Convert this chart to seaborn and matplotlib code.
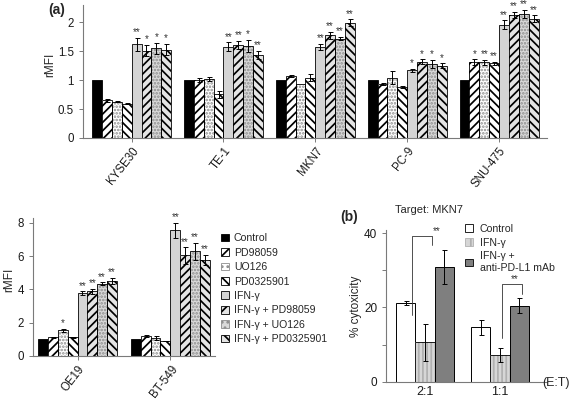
import matplotlib
matplotlib.use("Agg")
import matplotlib.pyplot as plt
from matplotlib.patches import Patch, Rectangle
import pandas as pd
import seaborn as sns

# ---- data ----
treatments = ["Control", "PD98059", "UO126", "PD0325901", "IFN-γ",
              "IFN-γ + PD98059", "IFN-γ + UO126", "IFN-γ + PD0325901"]

top_cells = ["KYSE30", "TE-1", "MKN7", "PC-9", "SNU-475"]
kyse30_vals = [1.00, 0.65, 0.63, 0.59, 1.62, 1.51, 1.55, 1.53]
kyse30_err = [0, 0.02, 0.01, 0.01, 0.11, 0.10, 0.10, 0.10]
kyse30_sig = ["", "", "", "", "**", "*", "*", "*"]
te1_vals = [1.00, 1.00, 1.02, 0.76, 1.58, 1.61, 1.59, 1.44]
te1_err = [0, 0.03, 0.04, 0.06, 0.08, 0.07, 0.11, 0.07]
te1_sig = ["", "", "", "", "**", "**", "*", "**"]
mkn7_vals = [1.00, 1.07, 0.93, 1.04, 1.58, 1.78, 1.72, 1.99]
mkn7_err = [0, 0.02, 0, 0.06, 0.05, 0.06, 0.03, 0.06]
mkn7_sig = ["", "", "", "", "**", "**", "**", "**"]
pc9_vals = [1.00, 0.93, 1.04, 0.88, 1.17, 1.32, 1.28, 1.25]
pc9_err = [0, 0.02, 0.11, 0.02, 0.03, 0.04, 0.07, 0.04]
pc9_sig = ["", "", "", "", "*", "*", "*", "*"]
snu475_vals = [1.00, 1.31, 1.31, 1.29, 1.96, 2.13, 2.15, 2.06]
snu475_err = [0, 0.05, 0.04, 0.03, 0.08, 0.05, 0.07, 0.06]
snu475_sig = ["", "*", "**", "**", "**", "**", "**", "**"]

low_cells = ["OE19", "BT-549"]
oe19_vals = [1.00, 1.12, 1.55, 1.12, 3.78, 3.90, 4.35, 4.52]
oe19_err = [0, 0.03, 0.08, 0.03, 0.12, 0.15, 0.08, 0.20]
oe19_sig = ["", "", "*", "", "**", "**", "**", "**"]
bt549_vals = [1.00, 1.20, 1.08, 0.90, 7.55, 6.05, 6.30, 5.80]
bt549_err = [0, 0.04, 0.10, 0.02, 0.45, 0.50, 0.50, 0.30]
bt549_sig = ["", "", "", "", "**", "**", "**", "**"]

ratios = ["2:1", "1:1"]
cyto_groups = ["Control", "IFN-γ", "IFN-γ +\nanti-PD-L1 mAb"]
cyto_control = [21.2, 14.6]
cyto_control_err = [0.5, 2.0]
cyto_ifn = [10.6, 7.2]
cyto_ifn_err = [4.9, 1.8]
cyto_anti = [30.9, 20.4]
cyto_anti_err = [4.6, 2.0]

# face colour, hatch, hatch colour for each treatment
bar_style = {
    "Control": ("#000000", "", "black"),
    "PD98059": ("#ffffff", "////", "black"),
    "UO126": ("#ffffff", ".....", "#8c8c8c"),
    "PD0325901": ("#ffffff", "\\\\\\\\", "black"),
    "IFN-γ": ("#d4d4d4", "", "black"),
    "IFN-γ + PD98059": ("#e4e4e4", "////", "black"),
    "IFN-γ + UO126": ("#d9d9d9", ".....", "#8c8c8c"),
    "IFN-γ + PD0325901": ("#e4e4e4", "\\\\\\\\", "black"),
}
cyto_style = {
    "Control": ("#ffffff", "", "black"),
    "IFN-γ": ("#d6d6d6", "||||", "#b0b0b0"),
    "IFN-γ +\nanti-PD-L1 mAb": ("#7f7f7f", "", "black"),
}

sns.set_style("ticks")
plt.rcParams["font.family"] = ["Liberation Sans", "DejaVu Sans"]
plt.rcParams["hatch.linewidth"] = 1.25
plt.rcParams["axes.edgecolor"] = "#7a7a7a"
plt.rcParams["xtick.color"] = "#7a7a7a"
plt.rcParams["ytick.color"] = "#7a7a7a"
plt.rcParams["xtick.labelcolor"] = "#1a1a1a"
plt.rcParams["ytick.labelcolor"] = "#1a1a1a"


def style_bars(ax, containers, levels, styles):
    for level, cont in zip(levels, containers):
        face, hatch, hcolor = styles[level]
        for bar in cont:
            bar.set_facecolor(face)
            if hatch:
                bar.set_hatch(hatch)
                bar.set_edgecolor(hcolor)
                bar.set_linewidth(0)
                ax.add_patch(Rectangle(bar.get_xy(), bar.get_width(), bar.get_height(),
                                       fill=False, edgecolor="black", linewidth=0.6))


def add_errors(ax, containers, errs, sigs=None):
    for k, cont in enumerate(containers):
        for j, bar in enumerate(cont):
            e = errs[j][k]
            xc = bar.get_x() + bar.get_width() / 2
            top = bar.get_height()
            if e > 0:
                ax.errorbar(xc, top, yerr=e, fmt="none", ecolor="black",
                            elinewidth=0.7, capsize=1.8, capthick=0.7)
            if sigs is not None and sigs[j][k]:
                ax.annotate(sigs[j][k], (xc, top + e), xytext=(0, 0.3),
                            textcoords="offset points", ha="center", va="bottom",
                            fontsize=7, color="#333333")


def rmfi_panel(ax, cells, vals, errs, sigs, width):
    rows = []
    for cell, v in zip(cells, vals):
        for t, val in zip(treatments, v):
            rows.append({"cell": cell, "treatment": t, "rmfi": val})
    df = pd.DataFrame(rows)
    sns.barplot(data=df, x="cell", y="rmfi", hue="treatment", order=cells,
                hue_order=treatments,
                palette={t: bar_style[t][0] for t in treatments},
                width=width, saturation=1, edgecolor="black", linewidth=0.6,
                errorbar=None, legend=False, ax=ax)
    conts = list(ax.containers)
    style_bars(ax, conts, treatments, bar_style)
    add_errors(ax, conts, errs, sigs)
    ax.set_xlabel("")
    ax.set_ylabel("rMFI", fontsize=8.5)
    ax.tick_params(axis="x", length=3, width=0.7, labelsize=8.3, pad=2)
    ax.tick_params(axis="y", length=3, width=0.7, labelsize=8.3)
    for lab in ax.get_xticklabels():
        lab.set_rotation(52)
        lab.set_ha("right")
        lab.set_rotation_mode("anchor")
    sns.despine(ax=ax)


fig = plt.figure(figsize=(5.72, 4.0), dpi=100)

# (a) upper panel
ax1 = fig.add_axes([0.145, 0.655, 0.811, 0.3325])
rmfi_panel(ax1, top_cells,
           [kyse30_vals, te1_vals, mkn7_vals, pc9_vals, snu475_vals],
           [kyse30_err, te1_err, mkn7_err, pc9_err, snu475_err],
           [kyse30_sig, te1_sig, mkn7_sig, pc9_sig, snu475_sig], 0.86)
ax1.set_xlim(-0.53, 4.52)
ax1.set_ylim(0, 2.3)
ax1.set_yticks([0, 0.5, 1, 1.5, 2])
ax1.set_yticklabels(["0", "0.5", "1", "1.5", "2"])
ax1.yaxis.set_label_coords(-0.058, 0.55)
fig.text(48 / 572, 1 - 14 / 400, "(a)", fontsize=10, fontweight="bold")

# (a) lower panel
ax2 = fig.add_axes([0.0577, 0.11, 0.318, 0.345])
rmfi_panel(ax2, low_cells, [oe19_vals, bt549_vals], [oe19_err, bt549_err],
           [oe19_sig, bt549_sig], 0.85)
ax2.set_xlim(-0.48, 1.48)
ax2.set_ylim(0, 8.3)
ax2.set_yticks([0, 2, 4, 6, 8])
ax2.yaxis.set_label_coords(-0.099, 0.55)

handles = []
for t in treatments:
    face, hatch, hcolor = bar_style[t]
    handles.append(Patch(facecolor=face, hatch=hatch[:3],
                         edgecolor="black" if not hatch else hcolor, linewidth=0.6))
fig.legend(handles, treatments, loc="upper left",
           bbox_to_anchor=(216 / 572, 1 - 228 / 400), frameon=False,
           fontsize=7.6, handlelength=0.75, handleheight=0.75,
           handletextpad=0.45, labelspacing=0.42, borderpad=0)

# (b) cytotoxicity panel
ax3 = fig.add_axes([0.675, 0.0458, 0.2815, 0.379])
rows = []
for g, v in zip(cyto_groups, [cyto_control, cyto_ifn, cyto_anti]):
    for r, val in zip(ratios, v):
        rows.append({"ratio": r, "group": g, "cyto": val})
cyto_df = pd.DataFrame(rows)
sns.barplot(data=cyto_df, x="ratio", y="cyto", hue="group", order=ratios,
            hue_order=cyto_groups,
            palette={g: cyto_style[g][0] for g in cyto_groups},
            width=0.77, saturation=1, edgecolor="black", linewidth=0.7,
            errorbar=None, legend=False, ax=ax3)
conts3 = list(ax3.containers)
style_bars(ax3, conts3, cyto_groups, cyto_style)
add_errors(ax3, conts3,
           [list(z) for z in zip(cyto_control_err, cyto_ifn_err, cyto_anti_err)])
ax3.set_xlim(-0.52, 1.63)
ax3.set_ylim(0, 40.8)
ax3.set_yticks([0, 20, 40])
ax3.set_yticks([10, 30], minor=True)
ax3.tick_params(axis="y", which="both", length=3, width=0.7, labelsize=8.5)
ax3.tick_params(axis="x", length=0, labelsize=9, pad=3)
ax3.set_xlabel("")
ax3.set_ylabel("% cytoxicity", fontsize=8.5)
ax3.yaxis.set_label_coords(-0.149, 0.5)
sns.despine(ax=ax3)

# significance brackets
ax3.plot([-0.174, -0.174, 0.094, 0.094], [18.0, 39.2, 39.2, 36.8],
         color="#333333", linewidth=0.6)
ax3.text(0.16, 39.3, "**", fontsize=7, ha="center", va="bottom", color="#333333",
         clip_on=False)
ax3.plot([1.023, 1.023, 1.29, 1.29], [11.7, 26.2, 26.2, 23.6],
         color="#333333", linewidth=0.6)
ax3.text(1.2, 26.3, "**", fontsize=7, ha="center", va="bottom", color="#333333")

cyto_handles = []
for g in cyto_groups:
    face, hatch, hcolor = cyto_style[g]
    cyto_handles.append(Patch(facecolor=face, hatch=hatch[:2],
                              edgecolor="black" if not hatch else hcolor,
                              linewidth=0.6))
ax3.legend(cyto_handles, cyto_groups, loc="upper left",
           bbox_to_anchor=(0.46, 1.075), frameon=False, fontsize=7.6,
           handlelength=0.75, handleheight=0.75, handletextpad=0.6,
           labelspacing=0.35, borderpad=0)

fig.text(340 / 572, 1 - 221 / 400, "(b)", fontsize=10, fontweight="bold")
fig.text(395 / 572, 1 - 213 / 400, "Target: MKN7", fontsize=8)
fig.text(570 / 572, 1 - 383 / 400, "(E:T)", fontsize=9, ha="right", va="center")

fig.savefig("out.png", dpi=100)
